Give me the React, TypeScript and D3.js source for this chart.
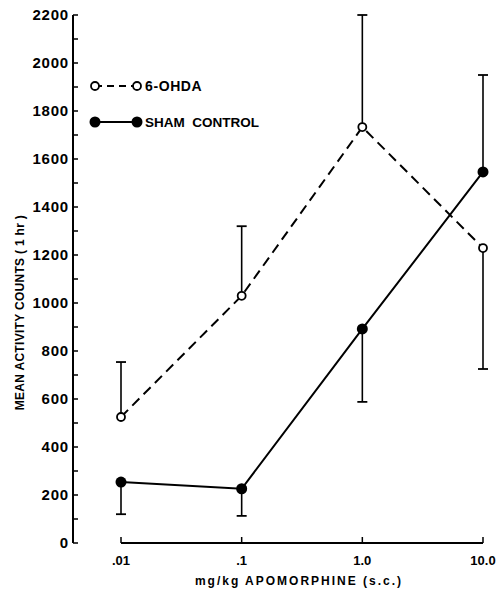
import * as d3 from 'd3';

const doses = [0.01, 0.1, 1.0, 10.0];
const doseLabels = ['.01', '.1', '1.0', '10.0'];
const ohdaMeans = [525, 1030, 1733, 1229];
const ohdaErrEnd = [754, 1320, 2200, 725];
const shamMeans = [254, 226, 892, 1546];
const shamErrEnd = [120, 113, 588, 1950];
const yTicks = [0, 200, 400, 600, 800, 1000, 1200, 1400, 1600, 1800, 2000, 2200];

const width = 497;
const height = 594;
const font = '"Liberation Sans", Arial, sans-serif';

const App = () => {
  const x = d3.scaleLog().domain([0.01, 10]).range([121, 483]);
  const y = d3.scaleLinear().domain([0, 2200]).range([543, 15]);
  const axisX = 73;
  const minorTicks = d3.range(0, 2201, 100);

  const line = d3
    .line<number>()
    .x((_, i) => x(doses[i]))
    .y((d) => y(d));

  // vertical bar from the mean to one end, with a cap
  const errorBars = (means: number[], ends: number[], key: string) =>
    means.map((m, i) => (
      <g key={key + i}>
        <line x1={x(doses[i])} x2={x(doses[i])} y1={y(m)} y2={y(ends[i])} stroke="#000" strokeWidth={1.6} />
        <line x1={x(doses[i]) - 5} x2={x(doses[i]) + 5} y1={y(ends[i])} y2={y(ends[i])} stroke="#000" strokeWidth={1.8} />
      </g>
    ));

  return (
    <div style={{ position: 'absolute', left: 0, top: 0 }}>
      <svg width={width} height={height} style={{ display: 'block', background: '#fff' }}>
        {/* y axis */}
        <line x1={axisX} x2={axisX} y1={y(2200)} y2={y(0)} stroke="#000" strokeWidth={2} />
        {minorTicks.map((t) => (
          <line key={t} x1={axisX} x2={axisX + 5} y1={y(t)} y2={y(t)} stroke="#000" strokeWidth={1.5} />
        ))}
        {yTicks.map((t) => (
          <text
            key={t}
            x={axisX - 4}
            y={y(t)}
            dy="0.36em"
            textAnchor="end"
            fontFamily={font}
            fontWeight="bold"
            fontSize={15}
            letterSpacing={0.8}
          >
            {t}
          </text>
        ))}
        <text
          transform={`translate(20, ${y(960)}) rotate(-90)`}
          textAnchor="middle"
          fontFamily={font}
          fontWeight="bold"
          fontSize={12}
          letterSpacing={0.3}
          dy="0.35em"
        >
          MEAN ACTIVITY COUNTS ( 1 hr )
        </text>

        {/* x axis */}
        <line x1={x(0.01)} x2={x(10)} y1={y(0)} y2={y(0)} stroke="#000" strokeWidth={2} />
        {doses.map((d, i) => (
          <g key={d}>
            <line x1={x(d)} x2={x(d)} y1={y(0)} y2={y(0) - 6} stroke="#000" strokeWidth={1.5} />
            <text
              x={x(d)}
              y={y(0) + 22}
              textAnchor="middle"
              fontFamily={font}
              fontWeight="bold"
              fontSize={13}
            >
              {doseLabels[i]}
            </text>
          </g>
        ))}
        <text
          x={299}
          y={585}
          textAnchor="middle"
          fontFamily={font}
          fontWeight="bold"
          fontSize={12}
          letterSpacing={2}
        >
          mg/kg APOMORPHINE (s.c.)
        </text>

        {/* error bars */}
        {errorBars(ohdaMeans, ohdaErrEnd, 'o')}
        {errorBars(shamMeans, shamErrEnd, 's')}

        {/* series lines */}
        <path d={line(ohdaMeans) ?? ''} fill="none" stroke="#000" strokeWidth={2} strokeDasharray="10,6" />
        <path d={line(shamMeans) ?? ''} fill="none" stroke="#000" strokeWidth={2} />

        {ohdaMeans.map((m, i) => (
          <circle key={'oc' + i} cx={x(doses[i])} cy={y(m)} r={4} fill="#fff" stroke="#000" strokeWidth={1.8} />
        ))}
        {shamMeans.map((m, i) => (
          <circle key={'sc' + i} cx={x(doses[i])} cy={y(m)} r={5.5} fill="#000" />
        ))}

        {/* legend */}
        <line x1={95} x2={137} y1={86} y2={86} stroke="#000" strokeWidth={2} strokeDasharray="7,5" />
        <circle cx={95} cy={86} r={4} fill="#fff" stroke="#000" strokeWidth={1.8} />
        <circle cx={137} cy={86} r={4} fill="#fff" stroke="#000" strokeWidth={1.8} />
        <text x={145} y={86} dy="0.36em" fontFamily={font} fontWeight="bold" fontSize={14} letterSpacing={0.6}>
          6-OHDA
        </text>
        <line x1={95} x2={137} y1={122} y2={122} stroke="#000" strokeWidth={2} />
        <circle cx={95} cy={122} r={5.5} fill="#000" />
        <circle cx={137} cy={122} r={5.5} fill="#000" />
        <text x={145} y={122} dy="0.36em" fontFamily={font} fontWeight="bold" fontSize={13.5}>
          {'SHAM\u00a0\u00a0CONTROL'}
        </text>
      </svg>
    </div>
  );
};

export default App;
